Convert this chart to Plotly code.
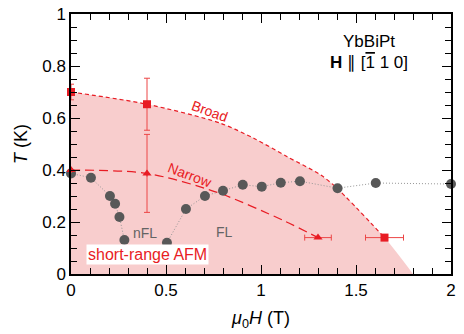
import plotly.graph_objects as go

# ---- data ----
gray_low_H = [0.0, 0.105, 0.205, 0.232, 0.255, 0.281]
gray_low_T = [0.387, 0.370, 0.300, 0.270, 0.219, 0.131]
gray_high_H = [0.505, 0.605, 0.705, 0.800, 0.904, 1.004, 1.104, 1.205, 1.403, 1.604, 2.0]
gray_high_T = [0.120, 0.250, 0.300, 0.320, 0.343, 0.336, 0.351, 0.357, 0.330, 0.350, 0.346]

sq_H = [0.0, 0.4, 1.65]
sq_T = [0.70, 0.653, 0.14]
sq_errT = [0.03, 0.10, 0.0]
sq_errH = [0.0, 0.0, 0.10]

tri_H = [0.0, 0.4, 1.3]
tri_T = [0.40, 0.387, 0.14]
tri_errT = [0.0, 0.15, 0.0]
tri_errH = [0.0, 0.0, 0.07]

broad_H = [0.0, 0.4, 0.786, 0.962, 1.138, 1.314, 1.4, 1.65]
broad_T = [0.70, 0.653, 0.580, 0.522, 0.451, 0.381, 0.330, 0.14]
fill_end_H = [1.8]
fill_end_T = [0.0]

narrow_H = [0.0, 0.4, 0.769, 1.12, 1.3]
narrow_T = [0.40, 0.387, 0.314, 0.205, 0.14]

RED = "rgb(232,28,36)"
ERR = "rgb(236,70,70)"
PINK = "rgb(248,205,205)"
GRAY = "rgb(88,88,88)"
FONT = "Liberation Sans, Arial, sans-serif"

fig = go.Figure()

# shaded short-range AFM region
fig.add_trace(go.Scatter(
    x=broad_H + fill_end_H, y=broad_T + fill_end_T, mode="lines",
    line=dict(width=0, shape="spline", smoothing=0.8), fill="tozeroy",
    fillcolor=PINK, hoverinfo="skip", showlegend=False))

# broad dashed line
fig.add_trace(go.Scatter(
    x=broad_H, y=broad_T, mode="lines",
    line=dict(color=RED, width=1.2, dash="4px,3px", shape="spline", smoothing=0.8),
    showlegend=False))

# narrow dashed line
fig.add_trace(go.Scatter(
    x=narrow_H, y=narrow_T, mode="lines",
    line=dict(color=RED, width=1.2, dash="9px,5px", shape="spline", smoothing=0.8),
    showlegend=False))

# gray points with dotted guides
for hx, ty in ((gray_low_H, gray_low_T), (gray_high_H, gray_high_T)):
    fig.add_trace(go.Scatter(
        x=hx, y=ty, mode="lines+markers",
        line=dict(color="rgb(150,150,150)", width=1, dash="1px,2px"),
        marker=dict(color=GRAY, size=10),
        cliponaxis=False, showlegend=False))

# red squares
fig.add_trace(go.Scatter(
    x=sq_H, y=sq_T, mode="markers",
    marker=dict(symbol="square", color=RED, size=8),
    error_y=dict(type="data", array=sq_errT, color=ERR, thickness=1, width=3),
    error_x=dict(type="data", array=sq_errH, color=ERR, thickness=1, width=3),
    cliponaxis=False, showlegend=False))

# red triangles
fig.add_trace(go.Scatter(
    x=tri_H, y=tri_T, mode="markers",
    marker=dict(symbol="triangle-up", color=RED, size=8),
    error_y=dict(type="data", array=tri_errT, color=ERR, thickness=1, width=3),
    error_x=dict(type="data", array=tri_errH, color=ERR, thickness=1, width=3),
    cliponaxis=False, showlegend=False))

annotations = [
    dict(x=0.728, y=0.627, text="Broad", textangle=20, font=dict(color=RED, size=14)),
    dict(x=0.625, y=0.381, text="Narrow", textangle=21, font=dict(color=RED, size=14)),
    dict(x=0.39, y=0.158, text="nFL", font=dict(color="rgb(100,100,100)", size=14)),
    dict(x=0.806, y=0.160, text="FL", font=dict(color="rgb(100,100,100)", size=14)),
    dict(x=0.40, y=0.075, text="short-range AFM", bgcolor="white", borderpad=1,
         font=dict(color=RED, size=16)),
    dict(x=1.569, y=0.893, text="YbBiPt", font=dict(color="black", size=17)),
    dict(x=1.569, y=0.813,
         text="<b>H</b> \u2225 [<span style=\"text-decoration:overline\">1</span> 1 0]",
         font=dict(color="black", size=17)),
]
for a in annotations:
    a.update(xref="x", yref="y", showarrow=False)

axis_common = dict(
    showline=True, linecolor="black", linewidth=1.5, mirror="allticks",
    ticks="inside", ticklen=9, tickwidth=1.2, tickcolor="black",
    showgrid=False, zeroline=False, automargin=False,
    tickfont=dict(family=FONT, size=17, color="black"),
)

fig.update_layout(
    width=464, height=334,
    margin=dict(l=71, r=13, t=14, b=60),
    plot_bgcolor="white", paper_bgcolor="white",
    font=dict(family=FONT, color="black"),
    annotations=annotations,
    xaxis=dict(range=[0, 2], dtick=0.5, tick0=0,
               minor=dict(dtick=0.1, ticklen=6, tickcolor="black", ticks="inside", tickwidth=1.2),
               title=dict(text="<i>μ</i><sub>0</sub><i>H</i> (T)", font=dict(size=18), standoff=12),
               **axis_common),
    yaxis=dict(range=[0, 1], dtick=0.2, tick0=0, tickformat="~g",
               minor=dict(dtick=0.05, ticklen=6, tickcolor="black", ticks="inside", tickwidth=1.2),
               title=dict(text="<i>T</i> (K)", font=dict(size=18), standoff=10),
               **axis_common),
)

fig.write_html("out.html")
